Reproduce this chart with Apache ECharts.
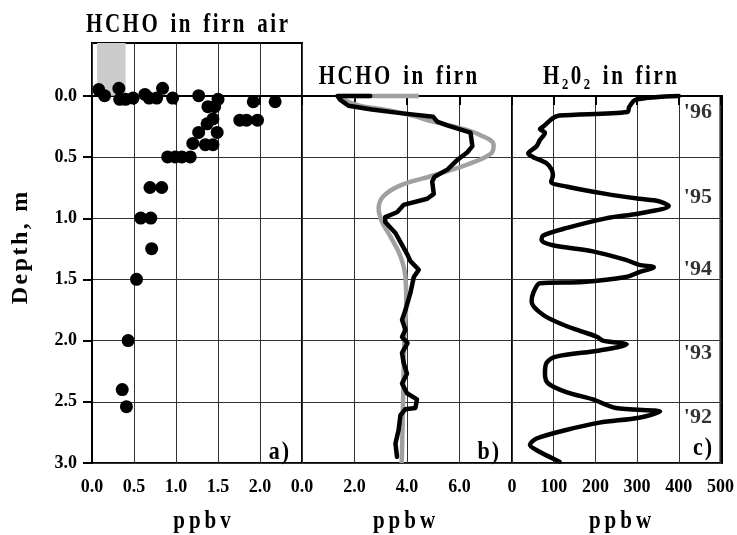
<!DOCTYPE html>
<html>
<head>
<meta charset="utf-8">
<script src="https://cdn.jsdelivr.net/npm/echarts@6/dist/echarts.min.js"></script>
<style>html,body{margin:0;padding:0;background:#fff}#c{width:737px;height:535px}</style>
</head>
<body>
<div id="c"></div>
<script>
// ---------- data ----------
const depthTicks = [0.0, 0.5, 1.0, 1.5, 2.0, 2.5, 3.0];
const ticksA = [0.0, 0.5, 1.0, 1.5, 2.0, 2.5];
const ticksB = [0, 2, 4, 6, 8];
const ticksC = [0, 100, 200, 300, 400, 500];

// panel a: HCHO in firn air (ppbv, depth m)
const airVal = [0.08,0.15,0.32,0.33,0.40,0.49,0.63,0.68,0.77,0.84,0.96,1.27,1.50,1.46,1.38,1.44,1.37,1.27,1.49,1.20,1.35,1.44,0.90,0.99,1.07,1.17,1.92,2.18,1.76,1.84,1.97,0.69,0.83,0.58,0.70,0.71,0.53,0.43,0.36,0.41];
const airDepth = [-0.05,0.00,-0.06,0.03,0.03,0.02,-0.01,0.02,0.02,-0.06,0.02,0.00,0.03,0.09,0.09,0.19,0.23,0.30,0.30,0.39,0.40,0.40,0.50,0.50,0.50,0.50,0.05,0.05,0.20,0.20,0.20,0.75,0.75,1.00,1.00,1.25,1.50,2.00,2.40,2.54];
const blankRange = [0.06, 0.40];

// panel b: HCHO in firn (ppbw)
const firnVal = [2.6,1.35,1.45,1.77,2.66,3.75,5.0,5.15,5.53,6.42,6.49,6.3,5.88,5.55,5.05,4.96,5.02,4.77,3.87,3.62,3.17,3.17,3.56,4.0,4.13,4.45,4.26,4.13,3.94,3.81,3.94,3.81,4.02,3.81,3.87,4.0,3.81,4.0,4.38,4.32,3.94,3.75,3.68,3.56,3.62];
const firnDepth = [0.0,0.0,0.03,0.08,0.11,0.14,0.17,0.21,0.24,0.30,0.41,0.46,0.53,0.60,0.66,0.70,0.80,0.84,0.89,0.95,0.99,1.03,1.12,1.29,1.35,1.42,1.48,1.61,1.75,1.83,1.91,1.97,2.02,2.10,2.18,2.27,2.35,2.43,2.48,2.55,2.56,2.61,2.73,2.84,2.95];
const fitVal = [4.45,1.5,1.6,2.2,3.1,4.2,5.0,6.0,6.8,7.3,7.2,6.3,5.0,3.75,3.1,2.92,3.05,3.37,3.75,3.94,3.97,3.9,3.85,3.8];
const fitDepth = [0.0,0.0,0.03,0.08,0.11,0.16,0.21,0.26,0.32,0.40,0.47,0.56,0.65,0.73,0.82,0.92,1.03,1.15,1.31,1.48,1.67,2.0,2.5,3.0];

// panel c: H2O2 in firn (ppbw)
const h2o2Val = [400,297,281,277,114,98,75,67,79,67,59,39,51,83,95,98,94,130,225,305,352,376,305,225,130,75,71,98,194,273,305,340,305,273,170,67,51,47,75,130,172,205,218,275,210,106,83,79,87,130,194,249,355,305,210,130,59,43,67,90,114];
const h2o2Depth = [0.0,0.03,0.09,0.13,0.16,0.18,0.25,0.27,0.30,0.36,0.41,0.47,0.50,0.55,0.60,0.65,0.70,0.74,0.80,0.84,0.86,0.90,0.96,1.00,1.08,1.14,1.18,1.22,1.27,1.34,1.38,1.40,1.44,1.48,1.52,1.53,1.61,1.68,1.79,1.88,1.93,1.97,2.00,2.03,2.08,2.13,2.18,2.27,2.35,2.42,2.48,2.55,2.58,2.63,2.67,2.73,2.80,2.85,2.91,2.95,2.99];
const yearLabels = ["'96","'95","'94","'93","'92"];
const yearDepths = [0.13, 0.83, 1.42, 2.10, 2.63];
const yearX = 412;

// ---------- chart ----------
const FONT = '"Liberation Serif","DejaVu Serif",serif';
// letter-spaced rich text
function richSpaced(s, size, ls, wordGap){
  const parts = [];
  for (const ch of s) {
    if (ch === ' ') parts.push('{w|\u00a0}');
    else parts.push('{c|' + ch + '}');
  }
  return {
    text: parts.join(''),
    rich: {
      c: {fontFamily:FONT, fontWeight:'bold', fontSize:size, fill:'#000', padding:[0, ls/2, 0, ls/2]},
      w: {fontFamily:FONT, fontWeight:'bold', fontSize:size, fill:'#000', padding:[0, wordGap/2, 0, wordGap/2]}
    }
  };
}
function txt(text, x, y, size, align, rot, sy, ls, wg){
  const r = richSpaced(text, size, ls||0, wg||0);
  return {type:'text', x:x, y:y, rotation: rot||0, scaleY: sy||1, z:100,
    style:{text:r.text, rich:r.rich, x:0, y:0, align:align||'center', verticalAlign:'middle',
      font:'bold '+size+'px '+FONT, fill:'#000'}};
}
const zip = (a,b) => a.map((v,i)=>[v,b[i]]);

const border = {show:true, borderColor:'#000', borderWidth:2, backgroundColor:'transparent'};
const tickLbl = {fontFamily:FONT, fontWeight:'bold', fontSize:18, color:'#000'};
const splitL = {show:true, lineStyle:{color:'#333', width:1}};
const axTick = {show:true, inside:false, length:9, lineStyle:{color:'#000', width:2}};
const axLine = {show:true, lineStyle:{color:'#000', width:2}};

const chart = echarts.init(document.getElementById('c'), null, {renderer:'canvas'});
chart.setOption({
  animation:false,
  backgroundColor:'#fff',
  grid:[
    Object.assign({left:92, right:15, top:96, bottom:72}, border),
    Object.assign({left:92, width:210, top:43, bottom:72}, border),
    Object.assign({left:302, width:210, top:96, bottom:72}, border),
    Object.assign({left:512, width:210, top:96, bottom:72}, border)
  ],
  xAxis:[
    {gridIndex:0, type:'value', min:0, max:1, show:false},
    {gridIndex:1, type:'value', min:ticksA[0], max:ticksA[ticksA.length-1], interval:0.5,
      axisLine:axLine, axisTick:axTick, splitLine:splitL,
      axisLabel:Object.assign({margin:15, formatter:v => v===2.5 ? '' : v.toFixed(1)}, tickLbl)},
    {gridIndex:2, type:'value', min:ticksB[0], max:ticksB[ticksB.length-1], interval:2,
      axisLine:axLine, axisTick:axTick, splitLine:splitL,
      axisLabel:Object.assign({margin:15, formatter:v => v===8 ? '' : v.toFixed(1)}, tickLbl)},
    {gridIndex:3, type:'value', min:ticksC[0], max:ticksC[ticksC.length-1], interval:100,
      axisLine:axLine, axisTick:axTick, splitLine:splitL,
      axisLabel:Object.assign({margin:15, formatter:v => String(v)}, tickLbl)}
  ],
  yAxis:[
    {gridIndex:0, type:'value', inverse:true, min:depthTicks[0], max:depthTicks[depthTicks.length-1], interval:0.5,
      axisLine:axLine, axisTick:axTick, splitLine:splitL,
      axisLabel:Object.assign({margin:15, formatter:v => v.toFixed(1)}, tickLbl)},
    {gridIndex:1, type:'value', inverse:true, min:-0.43, max:3, show:false, splitLine:{show:false}},
    {gridIndex:2, type:'value', inverse:true, min:0, max:3, show:false, splitLine:{show:false}},
    {gridIndex:3, type:'value', inverse:true, min:0, max:3, show:false, splitLine:{show:false}}
  ],
  series:[
    {type:'scatter', xAxisIndex:1, yAxisIndex:1, data:zip(airVal, airDepth), symbolSize:13,
      itemStyle:{color:'#000', opacity:1}, z:5,
      markArea:{silent:true, itemStyle:{color:'#cccccc', opacity:1}, z:1,
        data:[[{xAxis:blankRange[0], yAxis:-0.43},{xAxis:blankRange[1], yAxis:0}]]}},
    {type:'line', xAxisIndex:2, yAxisIndex:2, data:zip(fitVal, fitDepth), smooth:0.4, showSymbol:false,
      clip:false, lineStyle:{color:'#a0a0a0', width:4.5}, z:3},
    {type:'line', xAxisIndex:2, yAxisIndex:2, data:zip(firnVal, firnDepth), showSymbol:false,
      clip:false, lineStyle:{color:'#000', width:4.5, join:'round', cap:'round'}, z:4},
    {type:'line', xAxisIndex:3, yAxisIndex:3, data:zip(h2o2Val, h2o2Depth), smooth:0.3, showSymbol:false,
      clip:false, lineStyle:{color:'#000', width:4.5, join:'round', cap:'round'}, z:4},
    {type:'scatter', xAxisIndex:3, yAxisIndex:3, symbolSize:0, silent:true,
      data:yearDepths.map((d,i)=>({value:[yearX, d], name:yearLabels[i]})),
      label:{show:true, position:'right', distance:0, formatter:p=>p.name,
        fontFamily:FONT, fontWeight:'bold', fontSize:22, color:'#000'}}
  ],
  graphic:[
    txt('HCHO in firn air', 187, 25, 21, 'center', 0, 1.3, 2.5, 5),
    txt('HCHO in firn', 398, 77, 21, 'center', 0, 1.3, 2.5, 5),
    txt('H₂0₂ in firn', 610, 77, 21, 'center', 0, 1.3, 2.5, 5),
    txt('Depth, m', 21, 248, 24, 'center', Math.PI/2, 1, 2.5, 3),
    txt('ppbv', 202, 521, 21, 'center', 0, 1.2, 4, 0),
    txt('ppbw', 404, 521, 21, 'center', 0, 1.2, 4, 0),
    txt('ppbw', 620, 521, 21, 'center', 0, 1.2, 4, 0),
    txt('a)', 290, 452, 22, 'right', 0, 1.15, 2, 0),
    txt('b)', 500, 452, 22, 'right', 0, 1.15, 2, 0),
    txt('c)', 713, 448, 22, 'right', 0, 1.15, 2, 0)
  ]
});
</script>
</body>
</html>
